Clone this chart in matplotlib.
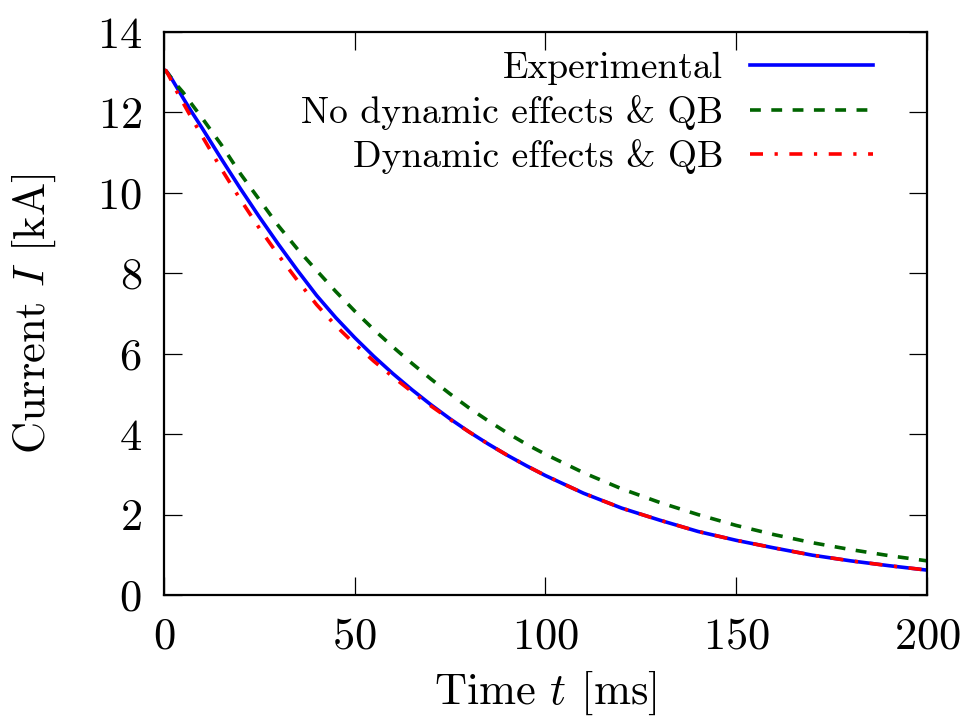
import matplotlib
matplotlib.use("Agg")
import matplotlib.pyplot as plt

# time axis [ms]
t_early = [0, 0.5, 1, 2, 3, 5, 7]
t_main = [10, 15, 20, 25, 30, 35, 40, 45, 50, 55, 60, 65, 70, 75, 80, 85, 90,
          95, 100, 110, 120, 130, 140, 150, 160, 170, 180, 190, 200]
t = t_early + t_main

# current [kA]
experimental = [13.05, 13.04, 12.98, 12.84, 12.68, 12.36, 12.05,
                11.61, 10.85, 10.11, 9.40, 8.72, 8.07, 7.45, 6.90, 6.40, 5.935,
                5.505, 5.105, 4.73, 4.38, 4.055, 3.755, 3.475, 3.215, 2.97,
                2.53, 2.16, 1.86, 1.58, 1.36, 1.17, 0.99, 0.85, 0.73, 0.62]
no_dynamic = [13.05, 13.03, 12.97, 12.85, 12.72, 12.50, 12.24,
              11.86, 11.20, 10.48, 9.83, 9.18, 8.60, 8.07, 7.55, 7.06, 6.60,
              6.17, 5.76, 5.37, 5.00, 4.65, 4.33, 4.03, 3.75, 3.50, 3.04,
              2.64, 2.30, 2.00, 1.73, 1.50, 1.30, 1.13, 0.98, 0.85]
dynamic = [13.05, 13.04, 12.96, 12.78, 12.58, 12.24, 11.90,
           11.41, 10.60, 9.84, 9.12, 8.45, 7.82, 7.22, 6.70, 6.24, 5.815,
           5.425, 5.055, 4.70, 4.365, 4.055, 3.755, 3.475, 3.215, 2.97,
           2.53, 2.16, 1.86, 1.58, 1.36, 1.17, 0.99, 0.85, 0.73, 0.62]

labels = ["Experimental", "No dynamic effects & QB", "Dynamic effects & QB"]

plt.rcParams['font.family'] = 'cmr10'
plt.rcParams['mathtext.fontset'] = 'cm'
plt.rcParams['axes.unicode_minus'] = False
plt.rcParams['axes.formatter.use_mathtext'] = True

fig = plt.figure(figsize=(9.63, 7.26), dpi=100)
ax = fig.add_axes([0.1703, 0.1804, 0.7923, 0.7755])

ax.plot(t, experimental, color='#0000ff', lw=2.6, label=labels[0])
ax.plot(t, no_dynamic, color='#006400', lw=2.6, linestyle=(0, (3.0, 2.9)),
        label=labels[1])
ax.plot(t, dynamic, color='#ff0000', lw=2.6,
        linestyle=(0, (3.6, 3.2, 0.9, 3.2)), label=labels[2])

ax.set_xlim(0, 200)
ax.set_ylim(0, 14)
ax.set_xticks([0, 50, 100, 150, 200])
ax.set_yticks(range(0, 15, 2))
ax.tick_params(direction='in', length=13, width=0.9, top=True, right=True,
               labelsize=32, pad=16)
for s in ax.spines.values():
    s.set_linewidth(1.6)

ax.set_xlabel(r'Time $t$ [ms]', fontsize=32, labelpad=8)
ax.set_ylabel(r'Current $I$ [kA]', fontsize=32, labelpad=28)

leg = ax.legend(loc='upper right', frameon=False, markerfirst=False,
                fontsize=27, handlelength=3.3, handletextpad=0.7,
                labelspacing=0.25, borderaxespad=0.3,
                bbox_to_anchor=(0.964, 1.011))

fig.savefig('out.png', dpi=100)
